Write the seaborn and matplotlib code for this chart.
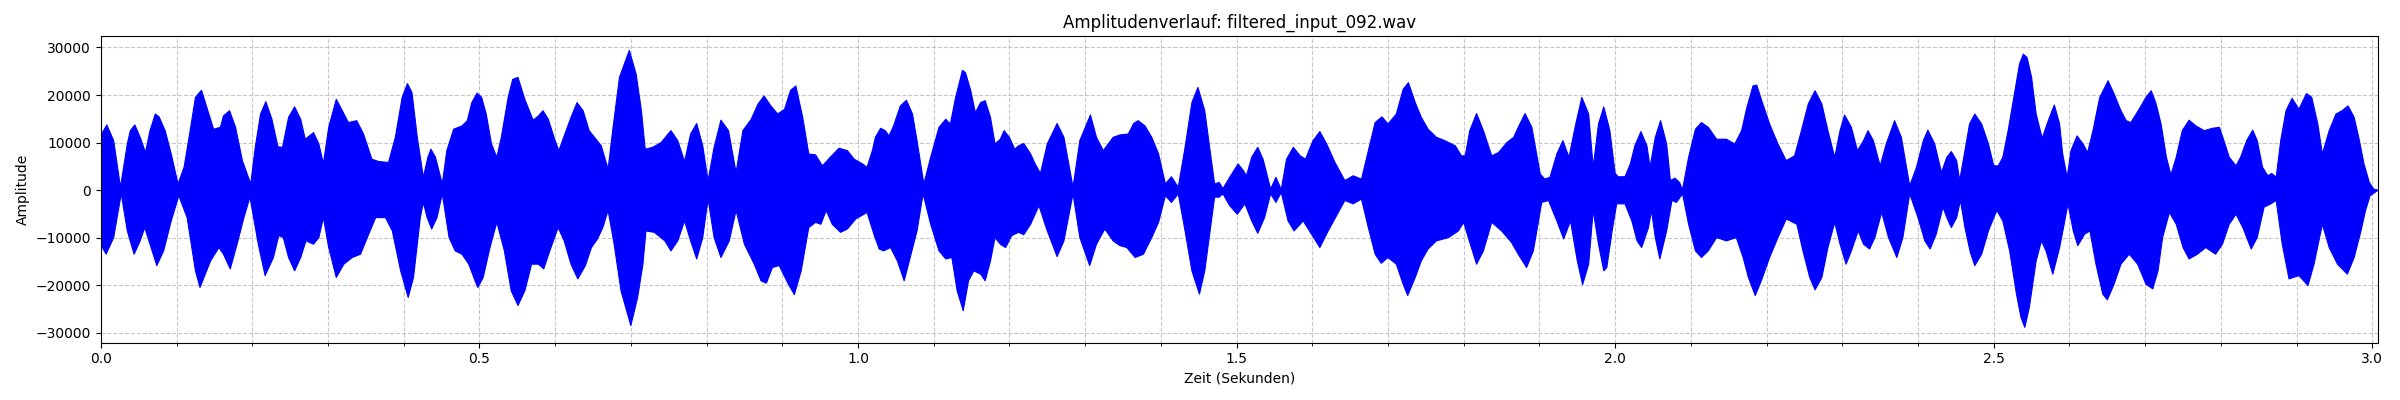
import numpy as np
import seaborn as sns
import matplotlib
matplotlib.use("Agg")
import matplotlib.pyplot as plt
from matplotlib.ticker import MultipleLocator

# Obere Hüllkurve des Signals (Zeit in s, Amplitude)
t_oben = [0.000, 0.008, 0.017, 0.026, 0.035, 0.039, 0.045, 0.052, 0.059, 0.065,
          0.072, 0.077, 0.085, 0.093, 0.102, 0.110, 0.118, 0.125, 0.133, 0.140,
          0.149, 0.158, 0.162, 0.170, 0.178, 0.187, 0.198, 0.204, 0.211, 0.218,
          0.226, 0.234, 0.240, 0.248, 0.256, 0.264, 0.270, 0.281, 0.288, 0.294,
          0.301, 0.311, 0.319, 0.327, 0.338, 0.347, 0.358, 0.367, 0.380, 0.389,
          0.398, 0.405, 0.411, 0.418, 0.426, 0.432, 0.436, 0.442, 0.451, 0.457,
          0.466, 0.477, 0.484, 0.490, 0.497, 0.503, 0.509, 0.516, 0.523, 0.529,
          0.538, 0.544, 0.551, 0.560, 0.571, 0.578, 0.584, 0.591, 0.600, 0.605,
          0.612, 0.621, 0.629, 0.637, 0.645, 0.652, 0.661, 0.670, 0.676, 0.685,
          0.698, 0.707, 0.714, 0.719, 0.729, 0.740, 0.753, 0.762, 0.771, 0.779,
          0.787, 0.795, 0.802, 0.810, 0.819, 0.829, 0.839, 0.848, 0.859, 0.868,
          0.876, 0.885, 0.894, 0.903, 0.911, 0.918, 0.927, 0.935, 0.944, 0.953,
          0.964, 0.975, 0.986, 0.995, 1.006, 1.012, 1.019, 1.023, 1.030, 1.036,
          1.041, 1.047, 1.056, 1.064, 1.072, 1.078, 1.087, 1.096, 1.107, 1.116,
          1.122, 1.129, 1.138, 1.142, 1.149, 1.155, 1.162, 1.168, 1.175, 1.181,
          1.188, 1.193, 1.200, 1.207, 1.212, 1.219, 1.228, 1.234, 1.241, 1.250,
          1.263, 1.272, 1.284, 1.293, 1.307, 1.315, 1.324, 1.337, 1.346, 1.357,
          1.364, 1.370, 1.379, 1.388, 1.397, 1.406, 1.414, 1.423, 1.432, 1.441,
          1.449, 1.458, 1.465, 1.471, 1.477, 1.482, 1.491, 1.502, 1.509, 1.513,
          1.520, 1.528, 1.535, 1.545, 1.552, 1.559, 1.566, 1.575, 1.584, 1.591,
          1.601, 1.610, 1.619, 1.630, 1.643, 1.654, 1.665, 1.674, 1.683, 1.692,
          1.700, 1.711, 1.720, 1.727, 1.736, 1.744, 1.753, 1.764, 1.775, 1.789,
          1.797, 1.802, 1.808, 1.817, 1.826, 1.837, 1.846, 1.857, 1.866, 1.872,
          1.881, 1.890, 1.901, 1.907, 1.914, 1.923, 1.931, 1.939, 1.947, 1.956,
          1.965, 1.971, 1.978, 1.985, 1.993, 2.000, 2.004, 2.013, 2.020, 2.026,
          2.034, 2.042, 2.046, 2.053, 2.060, 2.068, 2.073, 2.079, 2.085, 2.089,
          2.097, 2.106, 2.114, 2.123, 2.134, 2.147, 2.158, 2.167, 2.174, 2.182,
          2.187, 2.193, 2.204, 2.215, 2.226, 2.237, 2.246, 2.255, 2.264, 2.273,
          2.281, 2.290, 2.297, 2.303, 2.312, 2.320, 2.328, 2.334, 2.341, 2.350,
          2.358, 2.369, 2.378, 2.389, 2.398, 2.407, 2.413, 2.422, 2.431, 2.438,
          2.444, 2.451, 2.455, 2.462, 2.468, 2.475, 2.484, 2.493, 2.500, 2.506,
          2.512, 2.519, 2.528, 2.534, 2.539, 2.544, 2.550, 2.556, 2.564, 2.572,
          2.580, 2.587, 2.591, 2.597, 2.602, 2.610, 2.618, 2.624, 2.631, 2.640,
          2.651, 2.659, 2.668, 2.675, 2.681, 2.692, 2.701, 2.708, 2.714, 2.721,
          2.728, 2.734, 2.741, 2.749, 2.758, 2.767, 2.778, 2.789, 2.798, 2.804,
          2.811, 2.820, 2.826, 2.834, 2.842, 2.848, 2.855, 2.862, 2.867, 2.873,
          2.879, 2.886, 2.894, 2.903, 2.913, 2.920, 2.928, 2.934, 2.943, 2.952,
          2.960, 2.968, 2.976, 2.982, 2.989, 2.996, 3.002, 3.007]
amp_oben = [11500, 13700, 10400, 600, 9700, 12500, 13700, 11100, 7900, 12500,
            16000, 15400, 12500, 7600, 1300, 4800, 12500, 19500, 21000, 17400,
            12800, 13200, 15600, 16700, 13200, 6200, 1300, 9000, 16000, 18600,
            14900, 9100, 9000, 15300, 17500, 14900, 10700, 12100, 9700, 5600,
            13200, 19100, 16700, 14200, 14600, 11800, 6500, 6000, 5800, 11100,
            19500, 22400, 20500, 11100, 2700, 6900, 8600, 6900, 1300, 8300,
            12800, 13500, 14600, 18400, 20400, 19500, 16000, 9700, 6900, 11100,
            19500, 23300, 23700, 19100, 14700, 15600, 16700, 14900, 10400, 8300,
            11400, 15300, 18400, 16700, 12500, 11100, 9300, 4400, 12500, 23700,
            29400, 24400, 16700, 8600, 9000, 10000, 12500, 10400, 6000, 11800,
            14000, 9300, 2000, 9000, 14700, 12500, 3700, 12500, 14900, 18100,
            19800, 17700, 16000, 17000, 21000, 21900, 15300, 7600, 7400, 5100,
            7000, 8800, 8300, 6500, 5500, 4800, 8300, 11100, 13000, 12500,
            11400, 13500, 17700, 18900, 16000, 10400, 1300, 6900, 13200, 14900,
            13900, 19500, 25200, 24700, 20900, 16300, 18400, 18800, 15300, 9700,
            10700, 12500, 11100, 8600, 9300, 9800, 7600, 5500, 3500, 9700,
            14000, 11100, 600, 10400, 15800, 11100, 8300, 11100, 11600, 11800,
            14000, 14600, 13500, 11100, 7600, 1300, 2800, 600, 9000, 18400,
            21600, 16700, 8300, 1300, 1600, 300, 2700, 5500, 4100, 3000,
            6900, 9000, 6500, 200, 2700, 100, 6500, 9000, 7200, 6500,
            10400, 12300, 9700, 5800, 2000, 3000, 2300, 8300, 14200, 15400,
            13900, 16000, 21200, 22600, 18400, 15300, 12800, 11100, 10400, 9300,
            7200, 7200, 12500, 16100, 12500, 7200, 7900, 10000, 11100, 13200,
            16100, 13200, 3400, 2300, 2700, 7600, 10400, 6900, 13200, 19500,
            16000, 4800, 13900, 17500, 12500, 3500, 2800, 2800, 5500, 9300,
            12300, 9300, 4800, 11100, 14600, 9700, 2000, 2500, 1600, 100,
            6900, 12800, 14200, 13200, 10700, 10700, 9700, 12500, 17400, 21900,
            22100, 19100, 13900, 9700, 6200, 7200, 12500, 18100, 20900, 18100,
            12500, 6900, 12500, 15800, 13200, 8300, 10400, 12500, 10400, 5100,
            9700, 14600, 11100, 900, 4800, 10400, 12600, 9700, 3700, 6900,
            8100, 6200, 2000, 8300, 13900, 16000, 13900, 9700, 5100, 5100,
            6900, 12500, 20900, 26500, 28600, 27900, 23700, 16000, 10900, 14600,
            17900, 13900, 7600, 2700, 8300, 11400, 9700, 7900, 12500, 19500,
            23000, 20200, 16700, 14600, 14200, 17000, 19500, 20900, 18400, 13900,
            6900, 3200, 6900, 12500, 14700, 13500, 12500, 13000, 13200, 10400,
            6900, 5100, 6900, 10400, 12600, 10400, 4800, 3000, 3500, 2700,
            10400, 16700, 19300, 17000, 20300, 19500, 13900, 7600, 12500, 16000,
            16700, 17700, 15300, 11100, 5500, 1600, 200, 0]

# Untere Hüllkurve des Signals
t_unten = [0.000, 0.007, 0.017, 0.027, 0.035, 0.044, 0.052, 0.058, 0.065, 0.074,
           0.083, 0.093, 0.103, 0.114, 0.125, 0.131, 0.145, 0.156, 0.162, 0.171,
           0.180, 0.189, 0.197, 0.208, 0.217, 0.228, 0.235, 0.241, 0.248, 0.256,
           0.264, 0.271, 0.281, 0.288, 0.294, 0.301, 0.311, 0.321, 0.332, 0.343,
           0.352, 0.363, 0.376, 0.385, 0.396, 0.406, 0.413, 0.422, 0.426, 0.431,
           0.437, 0.444, 0.451, 0.460, 0.468, 0.477, 0.486, 0.495, 0.498, 0.505,
           0.514, 0.523, 0.533, 0.542, 0.551, 0.560, 0.569, 0.578, 0.585, 0.593,
           0.604, 0.612, 0.621, 0.630, 0.640, 0.648, 0.656, 0.663, 0.670, 0.678,
           0.687, 0.700, 0.709, 0.716, 0.720, 0.731, 0.745, 0.753, 0.762, 0.771,
           0.779, 0.787, 0.795, 0.802, 0.810, 0.819, 0.830, 0.839, 0.850, 0.863,
           0.872, 0.879, 0.887, 0.896, 0.908, 0.916, 0.925, 0.935, 0.944, 0.951,
           0.958, 0.966, 0.977, 0.986, 0.997, 1.012, 1.021, 1.028, 1.034, 1.043,
           1.052, 1.061, 1.069, 1.078, 1.086, 1.096, 1.107, 1.116, 1.124, 1.131,
           1.139, 1.146, 1.153, 1.162, 1.168, 1.175, 1.181, 1.188, 1.195, 1.203,
           1.212, 1.219, 1.228, 1.239, 1.250, 1.263, 1.272, 1.284, 1.293, 1.306,
           1.315, 1.326, 1.337, 1.346, 1.355, 1.366, 1.377, 1.388, 1.397, 1.406,
           1.414, 1.423, 1.432, 1.441, 1.451, 1.458, 1.465, 1.471, 1.477, 1.482,
           1.491, 1.501, 1.511, 1.520, 1.528, 1.537, 1.545, 1.552, 1.559, 1.568,
           1.576, 1.588, 1.599, 1.610, 1.621, 1.632, 1.643, 1.654, 1.665, 1.674,
           1.683, 1.691, 1.700, 1.711, 1.720, 1.726, 1.736, 1.744, 1.753, 1.764,
           1.780, 1.793, 1.800, 1.806, 1.817, 1.826, 1.837, 1.850, 1.863, 1.872,
           1.883, 1.892, 1.903, 1.912, 1.923, 1.932, 1.941, 1.950, 1.957, 1.965,
           1.971, 1.978, 1.985, 1.989, 1.996, 2.002, 2.013, 2.022, 2.029, 2.035,
           2.044, 2.048, 2.053, 2.059, 2.068, 2.075, 2.081, 2.089, 2.097, 2.106,
           2.114, 2.123, 2.134, 2.147, 2.160, 2.169, 2.176, 2.185, 2.193, 2.204,
           2.215, 2.226, 2.240, 2.248, 2.257, 2.264, 2.273, 2.281, 2.290, 2.297,
           2.305, 2.312, 2.321, 2.328, 2.336, 2.343, 2.352, 2.361, 2.372, 2.380,
           2.389, 2.400, 2.409, 2.416, 2.424, 2.433, 2.438, 2.444, 2.451, 2.456,
           2.462, 2.469, 2.475, 2.484, 2.493, 2.504, 2.512, 2.521, 2.530, 2.536,
           2.541, 2.547, 2.556, 2.563, 2.569, 2.578, 2.587, 2.593, 2.598, 2.605,
           2.611, 2.620, 2.627, 2.635, 2.644, 2.650, 2.659, 2.668, 2.679, 2.690,
           2.701, 2.710, 2.717, 2.723, 2.732, 2.741, 2.750, 2.758, 2.769, 2.780,
           2.793, 2.802, 2.811, 2.820, 2.829, 2.840, 2.848, 2.857, 2.866, 2.873,
           2.881, 2.890, 2.903, 2.915, 2.923, 2.934, 2.943, 2.954, 2.967, 2.976,
           2.985, 2.991, 2.997, 3.007]
amp_unten = [-11500, -13500, -10000, -800, -8600, -13500, -10700, -7900, -11400, -15900,
             -12800, -6500, -1200, -5800, -17000, -20500, -14900, -12100, -13500, -16600,
             -11400, -5800, -1500, -11400, -18000, -14200, -9600, -10000, -14200, -17000,
             -14200, -10700, -11400, -10000, -5800, -12100, -18400, -15600, -14200, -13500,
             -10000, -5800, -5800, -8600, -17000, -22600, -18400, -5800, -2600, -5800,
             -8200, -5800, -800, -10000, -12800, -13500, -15600, -19400, -20500, -18400,
             -12100, -6800, -12800, -21200, -24300, -21200, -15600, -15600, -16600, -12800,
             -7900, -10700, -15600, -18700, -15900, -12100, -10300, -7900, -4300, -11400,
             -21200, -28500, -22600, -15600, -8600, -8900, -10700, -12800, -10700, -6500,
             -10700, -14500, -10000, -1900, -10000, -14200, -10700, -4300, -11400, -15600,
             -19100, -19600, -16300, -15900, -19800, -22000, -17000, -7900, -6800, -7200,
             -4300, -7200, -8900, -8200, -6100, -4700, -9300, -12400, -12800, -12100,
             -14900, -19100, -14200, -8600, -800, -7200, -12800, -14500, -14200, -21200,
             -25400, -19100, -17000, -17700, -19100, -14900, -10000, -11400, -12100, -9600,
             -8900, -9400, -7200, -3300, -8600, -14000, -10700, -800, -10000, -15900,
             -11400, -8200, -10700, -11700, -12100, -14200, -13500, -10000, -6800, -1200,
             -2600, -800, -8600, -17000, -21900, -17000, -8600, -1500, -1500, -800,
             -3300, -5100, -2900, -6500, -9100, -5800, -800, -2600, -500, -6500,
             -8600, -6500, -9300, -12100, -8600, -5400, -2200, -2900, -1900, -7900,
             -13500, -15400, -14200, -15600, -19800, -22200, -18400, -14900, -12400, -10700,
             -10000, -8600, -6800, -10000, -15600, -12800, -6800, -8600, -11000, -13500,
             -16300, -12800, -2600, -2200, -6500, -10300, -6500, -14900, -19900, -15600,
             -4300, -11400, -17000, -16300, -8600, -2900, -2900, -6500, -10700, -12100,
             -7900, -4300, -10000, -14500, -8600, -2200, -2600, -800, -7200, -12800,
             -14200, -12800, -10000, -10700, -10000, -14200, -18400, -22200, -19100, -14200,
             -10000, -6100, -7200, -12800, -18400, -21000, -18400, -12100, -6800, -11400,
             -15600, -12800, -8600, -11400, -12400, -10000, -4700, -10000, -14200, -10000,
             -800, -5800, -10700, -12400, -9300, -3600, -5800, -7900, -5800, -2200,
             -7900, -13100, -15900, -13500, -8600, -4300, -6500, -12800, -21900, -26800,
             -28900, -24700, -14900, -10700, -12800, -17700, -12100, -7200, -2900, -8600,
             -11700, -9300, -8600, -15600, -21900, -23100, -19800, -15600, -13500, -15600,
             -19800, -20800, -17000, -10000, -4700, -7200, -12100, -14500, -13500, -12100,
             -13500, -11400, -7200, -5100, -7900, -12400, -10000, -3600, -2900, -2200,
             -11400, -18700, -18000, -20100, -15600, -7200, -12100, -15600, -17700, -14200,
             -8600, -4300, -1200, -100]

dauer = 3.008  # Länge der Datei in Sekunden
y_grenzen = (-32100, 32500)
dateiname = "filtered_input_092.wav"

fig, ax = plt.subplots(figsize=(24, 4), dpi=100)

# Fläche zwischen oberer und unterer Hüllkurve (das dichte Signal)
ax.fill(np.concatenate([t_oben, t_unten[::-1]]),
        np.concatenate([amp_oben, amp_unten[::-1]]),
        color="blue", linewidth=0)
sns.lineplot(x=t_oben, y=amp_oben, color="blue", linewidth=0.8, ax=ax)
sns.lineplot(x=t_unten, y=amp_unten, color="blue", linewidth=0.8, ax=ax)

ax.set_xlim(0, dauer)
ax.set_ylim(*y_grenzen)
ax.xaxis.set_major_locator(MultipleLocator(0.5))
ax.xaxis.set_minor_locator(MultipleLocator(0.1))
ax.yaxis.set_major_locator(MultipleLocator(10000))
ax.set_axisbelow(True)
ax.grid(True, which="major", linestyle="--", alpha=0.7)
ax.xaxis.grid(True, which="minor", linestyle="--", alpha=0.7)

ax.set_title(f"Amplitudenverlauf: {dateiname}")
ax.set_xlabel("Zeit (Sekunden)")
ax.set_ylabel("Amplitude")

plt.subplots_adjust(left=0.042, right=0.991, top=0.911, bottom=0.1435)
plt.savefig("out.png")
